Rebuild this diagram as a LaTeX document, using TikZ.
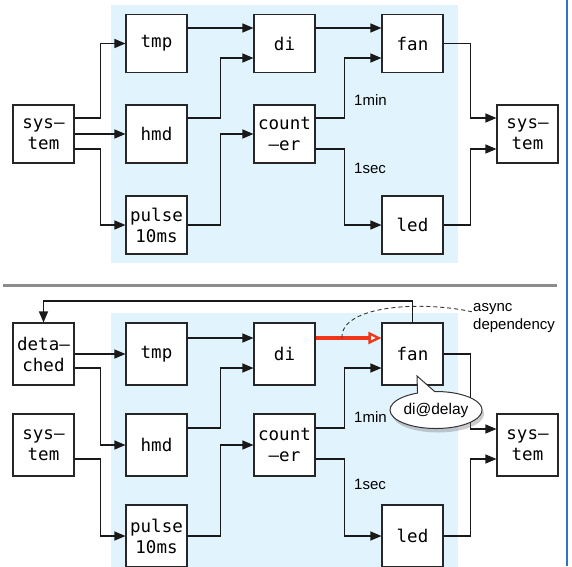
\documentclass[tikz,border=0pt]{standalone}
\usepackage{fontspec}
\setmainfont{Liberation Sans}
\setmonofont{DejaVu Sans Mono}
\usetikzlibrary{arrows.meta,calc,shapes.callouts,shadows}
\definecolor{bgblue}{HTML}{E1F4FE}
\definecolor{redarr}{HTML}{F0361A}
\definecolor{edgeblue}{HTML}{2C74C6}
\begin{document}
\begin{tikzpicture}[x=1pt,y=-1pt,
  box/.style={draw=black!85,line width=1.1pt,fill=white,minimum width=61pt,minimum height=58pt,inner sep=0pt,align=center,font=\ttfamily\fontsize{17.5}{21}\selectfont},
  boxb/.style={box,minimum height=62pt},
  conn/.style={draw=black!90,line width=1.2pt,-{Triangle[length=11pt,width=9pt]}},
  lbl/.style={font=\fontsize{15}{18}\selectfont,inner sep=0pt,align=left},
  redconn/.style={draw=redarr,line width=3.2pt,-{Triangle[open,length=13pt,width=12pt,line width=2.4pt,fill=white]}},
  dep/.style={draw=black!80,line width=0.9pt,dash pattern=on 4pt off 3pt}]
\useasboundingbox (0,0) rectangle (572,566);
\fill[white] (0,0) rectangle (572,566);
% backgrounds
\fill[bgblue] (111,5) rectangle (458,263);
\fill[bgblue] (111,313) rectangle (458,570);
\draw[line width=3pt,color=black!45] (3,285) -- (557,285);
\draw[line width=2pt,color=edgeblue] (567,0) -- (567,566);

% ---------- top panel ----------
\node[box] (sysL) at (43.5,134) {sys–\\tem};
\node[box] (tmp) at (156.5,43.5) {tmp};
\node[box] (hmd) at (156.5,134) {hmd};
\node[box] (pulse) at (156.5,225) {pulse\\10ms};
\node[box] (di) at (284.5,43.5) {di};
\node[box] (cnt) at (284.5,134) {count\\–er};
\node[box] (fan) at (412.5,43.5) {fan};
\node[box] (led) at (412.5,225) {led};
\node[box] (sysR) at (527.5,134) {sys–\\tem};

\draw[conn] ($(sysL.east)+(0,-16)$) -- ++(26,0) |- (tmp.west);
\draw[conn] (sysL.east) -- (hmd.west);
\draw[conn] ($(sysL.east)+(0,15)$) -- ++(26,0) |- (pulse.west);
\draw[conn] ($(tmp.east)+(0,-15.5)$) -- ($(di.west)+(0,-15.5)$);
\draw[conn] ($(hmd.east)+(0,-16)$) -- ++(33,0) |- ($(di.west)+(0,14.5)$);
\draw[conn] (pulse.east) -- ++(33,0) |- (cnt.west);
\draw[conn] ($(di.east)+(0,-15.5)$) -- ($(fan.west)+(0,-15.5)$);
\draw[conn] ($(cnt.east)+(0,-16)$) -- ++(29,0) |- ($(fan.west)+(0,14.5)$);
\draw[conn] ($(cnt.east)+(0,15)$) -- ++(29,0) |- (led.west);
\draw[conn] (fan.east) -- ++(27,0) |- ($(sysR.west)+(0,-16)$);
\draw[conn] (led.east) -- ++(27,0) |- ($(sysR.west)+(0,15)$);
\node[lbl,anchor=west] (min1) at (354,100) {1min};
\node[lbl,anchor=west] (sec1) at (354,168) {1sec};

% ---------- bottom panel ----------
\node[boxb] (det) at (43.5,354) {deta–\\ched};
\node[boxb] (sysL2) at (43.5,445) {sys–\\tem};
\node[boxb] (tmp2) at (156.5,354) {tmp};
\node[boxb] (hmd2) at (156.5,445) {hmd};
\node[boxb] (pulse2) at (156.5,536) {pulse\\10ms};
\node[boxb] (di2) at (284.5,354) {di};
\node[boxb] (cnt2) at (284.5,445) {count\\–er};
\node[boxb] (fan2) at (412.5,354) {fan};
\node[boxb] (led2) at (412.5,536) {led};
\node[boxb] (sysR2) at (527.5,445) {sys–\\tem};

\coordinate (fb) at (43.5,301);
\draw[conn] (fan2.north) |- (fb) -- (det.north);
\draw[conn] (det.east) -- (tmp2.west);
\draw[conn] ($(det.east)+(0,14)$) -- ++(26,0) |- (hmd2.west);
\draw[conn] ($(sysL2.east)+(0,14)$) -- ++(26,0) |- (pulse2.west);
\draw[conn] ($(tmp2.east)+(0,-16)$) -- ($(di2.west)+(0,-16)$);
\draw[conn] ($(hmd2.east)+(0,-17)$) -- ++(33,0) |- ($(di2.west)+(0,14)$);
\draw[conn] (pulse2.east) -- ++(33,0) |- (cnt2.west);
\draw[redconn] ($(di2.east)+(0,-16)$) -- ($(fan2.west)+(0,-16)$);
\draw[conn] ($(cnt2.east)+(0,-17)$) -- ++(29,0) |- ($(fan2.west)+(0,14)$);
\draw[conn] ($(cnt2.east)+(0,14)$) -- ++(29,0) |- (led2.west);
\draw[conn] (fan2.east) -- ++(27,0) |- ($(sysR2.west)+(0,-16)$);
\draw[conn] (led2.east) -- ++(27,0) |- ($(sysR2.west)+(0,14)$);
\node[lbl,anchor=west] (min2) at (354,417) {1min};
\node[lbl,anchor=west] (sec2) at (354,484) {1sec};

\node[lbl,anchor=north west] (async) at (473,303) {async\\dependency};
\coordinate (dstart) at (342,338);
\draw[dep] (dstart) .. controls (340,306) and (420,300) .. ($(async.north west)+(0,9)$);

\node[ellipse callout,draw=black!80,line width=1pt,fill=white,
  minimum width=92pt,minimum height=37pt,inner sep=0pt,
  callout absolute pointer={(417,376)},callout pointer arc=22,
  drop shadow={shadow xshift=2pt,shadow yshift=-4pt,opacity=0.4},
  font=\fontsize{15.5}{18}\selectfont] (bubble) at (436,410) {di@delay};
\end{tikzpicture}
\end{document}
